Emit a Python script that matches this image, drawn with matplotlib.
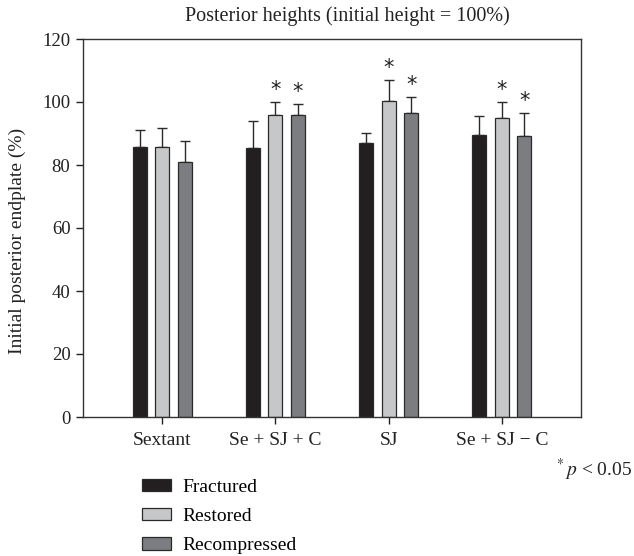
import matplotlib
matplotlib.use("Agg")
import matplotlib.pyplot as plt
import numpy as np
from matplotlib.patches import Patch

plt.rcParams['font.family'] = ['Liberation Serif', 'DejaVu Serif']
plt.rcParams['mathtext.fontset'] = 'stix'

categories = ["Sextant", "Se + SJ + C", "SJ", "Se + SJ \u2212 C"]
series = ["Fractured", "Restored", "Recompressed"]
fractured = [85.7, 85.3, 86.9, 89.5]
restored = [85.7, 95.9, 100.3, 94.8]
recompressed = [80.8, 96.0, 96.6, 89.3]
fractured_err = [5.4, 8.8, 3.4, 6.1]
restored_err = [5.9, 4.1, 6.6, 5.1]
recompressed_err = [6.8, 3.3, 5.0, 7.2]
fractured_sig = [False, False, False, False]
restored_sig = [False, True, True, True]
recompressed_sig = [False, True, True, True]
colors = ["#231f20", "#c6c7c9", "#7c7d81"]

values = [fractured, restored, recompressed]
errs = [fractured_err, restored_err, recompressed_err]
sigs = [fractured_sig, restored_sig, recompressed_sig]

fig = plt.figure(figsize=(6.34, 5.56), dpi=100)
ax = fig.add_axes([83/634, 1-417/556, 498/634, 378/556])

x = np.arange(len(categories))
width = 0.125
offsets = [-0.2, 0.0, 0.2]
for vals, err, sig, col, off in zip(values, errs, sigs, colors, offsets):
    ax.bar(x + off, vals, width, color=col, edgecolor="#2a2a2a", linewidth=0.9, zorder=2)
    ax.errorbar(x + off, vals, yerr=[np.zeros(len(vals)), err], fmt='none',
                ecolor="#2a2a2a", elinewidth=1.0, capsize=3.5, capthick=1.0, zorder=1)
    for xi, v, e, s in zip(x + off, vals, err, sig):
        if s:
            ax.text(xi, v + e + 0.6, "*", ha="center", va="bottom", fontsize=15,
                    family=['DejaVu Sans'], color="#222222")

ax.set_xlim(-0.7, 3.7)
ax.set_ylim(0, 120)
ax.set_yticks([0, 20, 40, 60, 80, 100, 120])
ax.set_xticks(x)
ax.set_xticklabels(categories)
ax.tick_params(direction='out', length=5, width=1, labelsize=13.5, colors="#222222", pad=4)
ax.tick_params(axis='x', labelsize=14, pad=6)
for sp in ax.spines.values():
    sp.set_linewidth(1.0)
    sp.set_color("#333333")
ax.set_ylabel("Initial posterior endplate (%)", fontsize=14, color="#222222")
ax.yaxis.set_label_coords(-0.115, 0.465)

fig.text(347/634, 1-16/556, "Posterior heights (initial height = 100%)", ha="center", va="center",
         fontsize=14.5, color="#222222")
fig.text(632/634, 1-470/556, r"$^{*}\,p$ < 0.05", ha="right", va="center", fontsize=14,
         color="#222222")

handles = [Patch(facecolor=c, edgecolor="#2a2a2a", linewidth=0.9) for c in colors]
fig.legend(handles, series, loc="upper left", bbox_to_anchor=(142/634, 1-479/556), frameon=False,
           fontsize=14, handlelength=1.5, handleheight=0.6, labelspacing=0.62, handletextpad=0.6,
           borderaxespad=0, borderpad=0)

fig.savefig("out.png", dpi=100)
